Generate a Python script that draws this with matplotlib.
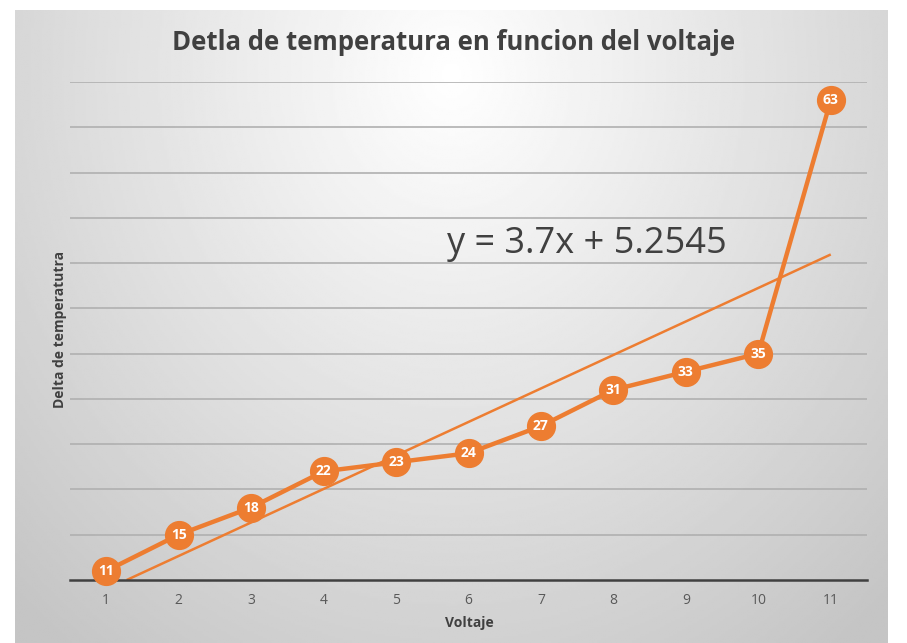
import matplotlib.pyplot as plt
import numpy as np

voltaje = [1, 2, 3, 4, 5, 6, 7, 8, 9, 10, 11]
delta_temp = [11, 15, 18, 22, 23, 24, 27, 31, 33, 35, 63]
slope = 3.7
intercept = 5.2545

orange = "#ED7D31"
W, H = 907, 643

fig = plt.figure(figsize=(W / 100, H / 100), dpi=100)
fig.patch.set_facecolor("white")

# chart background with radial gradient (Excel style)
bg = fig.add_axes([15 / W, 0, (888 - 15) / W, (643 - 10) / H])
bg.set_axis_off()
gx, gy = np.meshgrid(np.linspace(0, 1, 400), np.linspace(0, 1, 300))
dist = np.sqrt(((gx - 0.5) / 0.7) ** 2 + ((gy - 0.1) / 1.1) ** 2)
shade = np.clip(1.0 - 0.22 * dist, 0.77, 1.0)
bg.imshow(shade, cmap="gray", vmin=0, vmax=1, aspect="auto", extent=[0, 1, 1, 0])
bg.set_xlim(0, 1)
bg.set_ylim(1, 0)

ax = fig.add_axes([70 / W, 1 - 580 / H, (867 - 70) / W, (580 - 82) / H])
ax.patch.set_alpha(0)
ax.set_xlim(0.5, 11.5)
ax.set_ylim(10, 65)

for yv in range(15, 70, 5):
    ax.axhline(yv, color="#b0b0b0", lw=1.2, zorder=1)

# trend line, clipped at the axis
x_start = (10 - intercept) / slope
xt = np.array([x_start, 11])
ax.plot(xt, slope * xt + intercept, color=orange, lw=1.8, zorder=2, solid_capstyle="butt")

ax.plot(voltaje, delta_temp, color=orange, lw=3.2, zorder=3,
        marker="o", markersize=20, markerfacecolor=orange, markeredgecolor=orange,
        clip_on=False)
for xv, yv in zip(voltaje, delta_temp):
    ax.text(xv, yv, str(yv), color="white", fontsize=10, fontweight="bold",
            ha="center", va="center", zorder=4, family="Open Sans")

for s in ["top", "right", "left"]:
    ax.spines[s].set_visible(False)
ax.spines["bottom"].set_color("#404040")
ax.spines["bottom"].set_linewidth(1.8)
ax.set_yticks([])
ax.set_xticks(voltaje)
ax.set_xticklabels([str(v) for v in voltaje], fontsize=10, color="#595959", family="Open Sans")
ax.tick_params(axis="x", length=0, pad=9)

ax.text(5.7, 47.1, "y = 3.7x + 5.2545", fontsize=26, color="#404040",
        family="Open Sans", ha="left", va="center")

fig.text(0.5, 1 - 43 / H, "Detla de temperatura en funcion del voltaje", ha="center",
         va="center", fontsize=18.5, fontweight="bold", color="#404040", family="Open Sans")
fig.text(469 / W, 1 - 623 / H, "Voltaje", ha="center", va="center", fontsize=10,
         fontweight="bold", color="#404040", family="Open Sans")
fig.text(60 / W, 1 - 330 / H, "Delta de temperatutra", ha="center", va="center",
         rotation=90, fontsize=10, fontweight="bold", color="#404040", family="Open Sans")

fig.savefig("out.png", dpi=100)
